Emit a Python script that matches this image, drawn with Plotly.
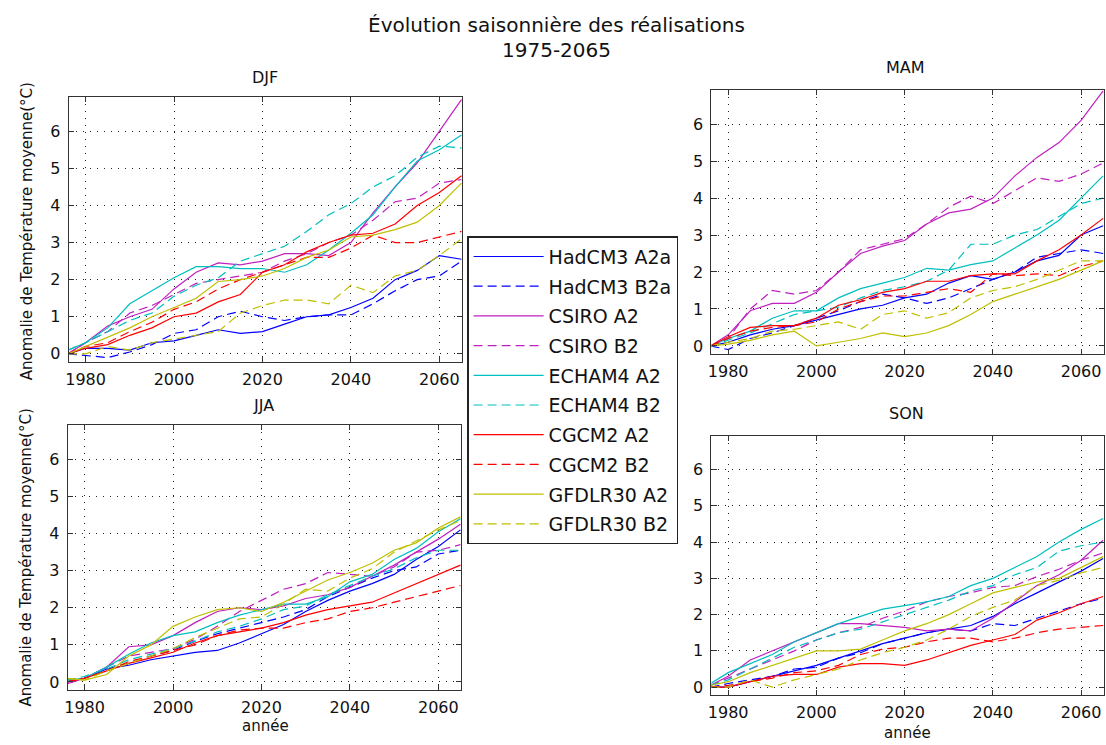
import plotly.graph_objects as go

# ---------------- data ----------------
years = [1976, 1980, 1985, 1990, 1995, 2000, 2005, 2010, 2015, 2020,
         2025, 2030, 2035, 2040, 2045, 2050, 2055, 2060, 2065]

legend_names = ["HadCM3 A2a", "HadCM3 B2a", "CSIRO A2", "CSIRO B2", "ECHAM4 A2",
                "ECHAM4 B2", "CGCM2 A2", "CGCM2 B2", "GFDLR30 A2", "GFDLR30 B2"]
season_titles = ["DJF", "MAM", "JJA", "SON"]
x_ticks = [1980, 2000, 2020, 2040, 2060]
y_ticks = [0, 1, 2, 3, 4, 5, 6]

# DJF
djf_had_a2 = [0, 0.15, 0.15, 0.1, 0.3, 0.35, 0.5, 0.65, 0.55, 0.6, 0.8, 1.0, 1.05, 1.25, 1.5, 2.0, 2.25, 2.65, 2.55]
djf_had_b2 = [0, -0.05, -0.1, 0.05, 0.25, 0.55, 0.65, 1.0, 1.15, 1.0, 0.9, 1.0, 1.05, 1.05, 1.35, 1.7, 2.0, 2.1, 2.5]
djf_csiro_a2 = [0, 0.3, 0.75, 1.0, 1.2, 1.75, 2.2, 2.45, 2.4, 2.5, 2.7, 2.7, 2.65, 3.0, 3.8, 4.5, 5.15, 6.0, 6.85]
djf_csiro_b2 = [0, 0.3, 0.6, 1.1, 1.3, 1.6, 1.9, 2.0, 2.1, 2.2, 2.5, 2.7, 3.0, 3.2, 3.6, 4.1, 4.2, 4.6, 4.7]
djf_echam_a2 = [0.1, 0.3, 0.7, 1.35, 1.7, 2.05, 2.35, 2.35, 2.3, 2.3, 2.2, 2.4, 2.8, 3.25, 3.75, 4.5, 5.2, 5.5, 5.9]
djf_echam_b2 = [0.1, 0.3, 0.6, 0.9, 1.1, 1.55, 1.85, 2.05, 2.5, 2.7, 2.9, 3.3, 3.75, 4.05, 4.5, 4.8, 5.3, 5.6, 5.55]
djf_cgcm_a2 = [0, 0.15, 0.25, 0.5, 0.7, 1.0, 1.1, 1.4, 1.6, 2.2, 2.4, 2.75, 3.0, 3.2, 3.25, 3.5, 4.0, 4.35, 4.8]
djf_cgcm_b2 = [0, 0.2, 0.3, 0.6, 0.85, 1.2, 1.4, 1.75, 2.0, 2.2, 2.4, 2.6, 2.6, 2.85, 3.2, 3.0, 3.0, 3.15, 3.3]
djf_gfdl_a2 = [0, 0.2, 0.45, 0.7, 1.0, 1.25, 1.5, 1.95, 2.0, 2.1, 2.3, 2.6, 2.8, 3.15, 3.2, 3.35, 3.55, 4.0, 4.6]
djf_gfdl_b2 = [0, 0, 0.2, 0.1, 0.3, 0.4, 0.5, 0.6, 1.1, 1.3, 1.45, 1.45, 1.35, 1.85, 1.65, 2.1, 2.25, 2.65, 3.1]

# MAM
mam_had_a2 = [0, 0.1, 0.3, 0.45, 0.55, 0.7, 0.85, 1.0, 1.1, 1.3, 1.4, 1.7, 1.9, 1.8, 2.0, 2.3, 2.45, 3.0, 3.25]
mam_had_b2 = [0, -0.1, 0.2, 0.35, 0.55, 0.75, 0.95, 1.2, 1.4, 1.3, 1.15, 1.3, 1.55, 1.8, 2.0, 2.4, 2.5, 2.6, 2.5]
mam_csiro_a2 = [0, 0.3, 0.95, 1.15, 1.15, 1.45, 2.0, 2.5, 2.7, 2.85, 3.3, 3.6, 3.7, 4.0, 4.6, 5.1, 5.5, 6.1, 6.9]
mam_csiro_b2 = [0, 0.2, 1.0, 1.5, 1.4, 1.5, 2.0, 2.6, 2.75, 2.9, 3.3, 3.75, 4.05, 3.85, 4.2, 4.55, 4.45, 4.65, 4.95]
mam_echam_a2 = [0, 0.2, 0.4, 0.75, 0.95, 0.95, 1.3, 1.55, 1.7, 1.85, 2.1, 2.05, 2.2, 2.3, 2.65, 3.0, 3.4, 4.0, 4.6]
mam_echam_b2 = [0, 0.15, 0.35, 0.6, 0.85, 0.95, 1.05, 1.3, 1.5, 1.6, 1.75, 2.05, 2.75, 2.75, 3.0, 3.15, 3.5, 3.85, 4.0]
mam_cgcm_a2 = [0, 0.25, 0.5, 0.55, 0.55, 0.75, 1.1, 1.25, 1.45, 1.55, 1.75, 1.75, 1.9, 1.95, 1.95, 2.3, 2.6, 3.0, 3.45]
mam_cgcm_b2 = [0, 0.2, 0.4, 0.5, 0.55, 0.65, 1.0, 1.2, 1.35, 1.35, 1.45, 1.55, 1.45, 1.95, 1.9, 1.95, 1.9, 2.15, 2.3]
mam_gfdl_a2 = [0, 0.05, 0.15, 0.3, 0.4, 0.0, 0.1, 0.2, 0.35, 0.25, 0.35, 0.55, 0.85, 1.2, 1.4, 1.6, 1.8, 2.05, 2.3]
mam_gfdl_b2 = [0, 0.1, 0.2, 0.4, 0.45, 0.55, 0.65, 0.45, 0.85, 0.95, 0.75, 0.9, 1.3, 1.5, 1.6, 1.8, 2.05, 2.3, 2.3]

# JJA
jja_had_a2 = [0, 0.1, 0.35, 0.45, 0.6, 0.7, 0.8, 0.85, 1.05, 1.3, 1.55, 1.9, 2.2, 2.45, 2.65, 2.9, 3.3, 3.65, 4.1]
jja_had_b2 = [0, 0.1, 0.35, 0.5, 0.7, 0.85, 1.1, 1.3, 1.45, 1.6, 1.75, 1.95, 2.3, 2.55, 2.8, 3.0, 3.1, 3.45, 3.55]
jja_csiro_a2 = [-0.05, 0.1, 0.4, 0.95, 1.0, 1.25, 1.6, 1.9, 2.0, 1.95, 2.05, 2.25, 2.35, 2.55, 2.85, 3.15, 3.5, 3.85, 4.25]
jja_csiro_b2 = [0, 0.1, 0.4, 0.7, 0.8, 0.9, 1.15, 1.5, 1.9, 2.2, 2.5, 2.65, 2.95, 2.9, 2.85, 3.1, 3.5, 3.55, 3.7]
jja_echam_a2 = [0.05, 0.1, 0.4, 0.75, 1.05, 1.25, 1.35, 1.6, 1.8, 1.95, 2.1, 2.1, 2.3, 2.7, 2.9, 3.3, 3.6, 4.05, 4.4]
jja_echam_b2 = [0.05, 0.15, 0.35, 0.6, 0.75, 0.9, 1.1, 1.35, 1.5, 1.7, 1.95, 2.05, 2.35, 2.6, 2.85, 3.05, 3.35, 3.55, 3.55]
jja_cgcm_a2 = [0, 0.1, 0.3, 0.5, 0.65, 0.8, 1.05, 1.25, 1.35, 1.45, 1.6, 1.8, 1.95, 2.05, 2.15, 2.4, 2.65, 2.9, 3.15]
jja_cgcm_b2 = [0, 0.1, 0.3, 0.55, 0.7, 0.85, 1.0, 1.25, 1.4, 1.45, 1.45, 1.6, 1.7, 1.9, 2.0, 2.15, 2.3, 2.45, 2.6]
jja_gfdl_a2 = [0.1, 0.05, 0.2, 0.7, 1.0, 1.5, 1.75, 1.95, 2.0, 1.9, 2.15, 2.45, 2.75, 2.95, 3.2, 3.55, 3.75, 4.15, 4.45]
jja_gfdl_b2 = [0.1, 0.05, 0.3, 0.5, 0.7, 0.9, 1.2, 1.45, 1.7, 1.75, 2.1, 2.5, 2.45, 2.8, 3.05, 3.5, 3.8, 4.1, 4.35]

# SON
son_had_a2 = [0, 0.0, 0.15, 0.3, 0.45, 0.6, 0.8, 1.0, 1.2, 1.35, 1.5, 1.6, 1.7, 1.95, 2.3, 2.6, 2.9, 3.2, 3.55]
son_had_b2 = [0, 0.1, 0.2, 0.3, 0.5, 0.55, 0.8, 0.95, 1.2, 1.35, 1.5, 1.6, 1.55, 1.75, 1.7, 1.9, 2.1, 2.3, 2.45]
son_csiro_a2 = [0.05, 0.3, 0.75, 1.0, 1.25, 1.5, 1.75, 1.75, 1.7, 1.65, 1.55, 1.6, 1.55, 1.9, 2.35, 2.8, 3.1, 3.5, 4.05]
son_csiro_b2 = [0.05, 0.25, 0.5, 0.75, 1.0, 1.3, 1.5, 1.65, 1.9, 2.1, 2.35, 2.5, 2.6, 2.75, 2.8, 3.05, 3.25, 3.5, 3.7]
son_echam_a2 = [0.1, 0.4, 0.65, 0.9, 1.25, 1.5, 1.75, 1.95, 2.15, 2.25, 2.35, 2.5, 2.8, 3.0, 3.3, 3.6, 4.0, 4.35, 4.65]
son_echam_b2 = [0.05, 0.2, 0.5, 0.8, 1.1, 1.3, 1.5, 1.6, 1.8, 2.0, 2.2, 2.4, 2.65, 2.8, 3.1, 3.3, 3.75, 3.9, 4.0]
son_cgcm_a2 = [0, 0.0, 0.15, 0.3, 0.35, 0.35, 0.55, 0.65, 0.65, 0.6, 0.75, 0.95, 1.15, 1.3, 1.45, 1.85, 2.05, 2.3, 2.5]
son_cgcm_b2 = [0, 0.05, 0.15, 0.25, 0.4, 0.45, 0.6, 0.9, 1.05, 1.1, 1.25, 1.35, 1.35, 1.25, 1.35, 1.5, 1.6, 1.65, 1.7]
son_gfdl_a2 = [0.05, 0.15, 0.4, 0.6, 0.8, 1.0, 1.0, 1.05, 1.3, 1.55, 1.75, 2.0, 2.3, 2.6, 2.75, 2.9, 3.0, 3.3, 3.6]
son_gfdl_b2 = [0, 0, 0.2, 0.0, 0.2, 0.35, 0.5, 0.75, 0.95, 1.1, 1.3, 1.6, 1.95, 2.2, 2.4, 2.8, 2.95, 3.15, 3.3]

# ---------------- table built from the lists above ----------------
season_series = {
    "DJF": [djf_had_a2, djf_had_b2, djf_csiro_a2, djf_csiro_b2, djf_echam_a2,
            djf_echam_b2, djf_cgcm_a2, djf_cgcm_b2, djf_gfdl_a2, djf_gfdl_b2],
    "MAM": [mam_had_a2, mam_had_b2, mam_csiro_a2, mam_csiro_b2, mam_echam_a2,
            mam_echam_b2, mam_cgcm_a2, mam_cgcm_b2, mam_gfdl_a2, mam_gfdl_b2],
    "JJA": [jja_had_a2, jja_had_b2, jja_csiro_a2, jja_csiro_b2, jja_echam_a2,
            jja_echam_b2, jja_cgcm_a2, jja_cgcm_b2, jja_gfdl_a2, jja_gfdl_b2],
    "SON": [son_had_a2, son_had_b2, son_csiro_a2, son_csiro_b2, son_echam_a2,
            son_echam_b2, son_cgcm_a2, son_cgcm_b2, son_gfdl_a2, son_gfdl_b2],
}

# ---------------- styles ----------------
line_colors = ["#0000FF", "#0000FF", "#C020C0", "#C020C0", "#00BFBF",
               "#00BFBF", "#FF0000", "#FF0000", "#BFBF00", "#BFBF00"]
line_dashes = ["solid", "9px,5px"] * 5

W, H = 1106, 745
FONT = "DejaVu Sans"


def fx(p):
    return p / W


def fy(p):
    return 1 - p / H


# pixel boxes (left, top, right, bottom) for each season panel
boxes = {
    "DJF": (65, 97, 460, 363),
    "MAM": (710, 90, 1104, 355),
    "JJA": (64, 426, 459, 692),
    "SON": (710, 437, 1104, 697),
}
axis_ids = {"DJF": "", "MAM": "2", "JJA": "3", "SON": "4"}

fig = go.Figure()

for season in season_titles:
    aid = axis_ids[season]
    for i, vals in enumerate(season_series[season]):
        fig.add_trace(go.Scatter(
            x=years, y=vals, mode="lines",
            name=legend_names[i],
            legendgroup=legend_names[i],
            showlegend=(season == "DJF"),
            line=dict(color=line_colors[i], width=1.2, dash=line_dashes[i]),
            xaxis="x" + aid, yaxis="y" + aid,
        ))

axis_common = dict(
    showgrid=True, gridcolor="#222222", griddash="1px,6px", gridwidth=1,
    showline=True, linecolor="#333333", linewidth=1.3, mirror="allticks",
    ticks="inside", ticklen=5, tickcolor="#333333", zeroline=False,
    tickfont=dict(family=FONT, size=16, color="#111111"),
)

layout_axes = {}
for season in season_titles:
    l, t, r, b = boxes[season]
    aid = axis_ids[season]
    layout_axes["xaxis" + aid] = dict(
        axis_common, domain=[fx(l), fx(r)], range=[1976.2, 2065.2],
        tickvals=x_ticks, anchor="y" + aid, ticklabelstandoff=3)
    layout_axes["yaxis" + aid] = dict(
        axis_common, domain=[fy(b), fy(t)], range=[-0.22, 6.93],
        tickvals=y_ticks, anchor="x" + aid, ticklabelstandoff=4)

annotations = []


def add_text(text, x, y, size, angle=0):
    annotations.append(dict(
        text=text, x=fx(x), y=fy(y), xref="paper", yref="paper",
        showarrow=False, xanchor="center", yanchor="middle", textangle=angle,
        font=dict(family=FONT, size=size, color="#111111")))


add_text("Évolution saisonnière des réalisations", 555, 25, 20)
add_text("1975-2065", 555, 50, 20)
add_text("DJF", 262, 78, 16)
add_text("MAM", 905, 68, 16)
add_text("JJA", 260, 407, 16)
add_text("SON", 906, 415, 16)
add_text("Anomalie de Température moyenne(°C)", 23, 232, 15, -90)
add_text("Anomalie de Température moyenne(°C)", 23, 559, 15, -90)
add_text("année", 262, 728, 15)
add_text("année", 907, 735, 15)

fig.update_layout(
    width=W, height=H,
    margin=dict(l=0, r=0, t=0, b=0),
    paper_bgcolor="white", plot_bgcolor="white",
    showlegend=True,
    legend=dict(
        x=fx(465), y=fy(237), xanchor="left", yanchor="top",
        bordercolor="#222222", borderwidth=1.3, bgcolor="white",
        font=dict(family=FONT, size=19, color="#111111"),
        tracegroupgap=2, itemwidth=70,
    ),
    annotations=annotations,
    **layout_axes,
)

fig.write_html(
    "out.html",
    config={"displayModeBar": False},
    post_script="document.body.style.margin='0';document.body.style.overflow='hidden';",
)
